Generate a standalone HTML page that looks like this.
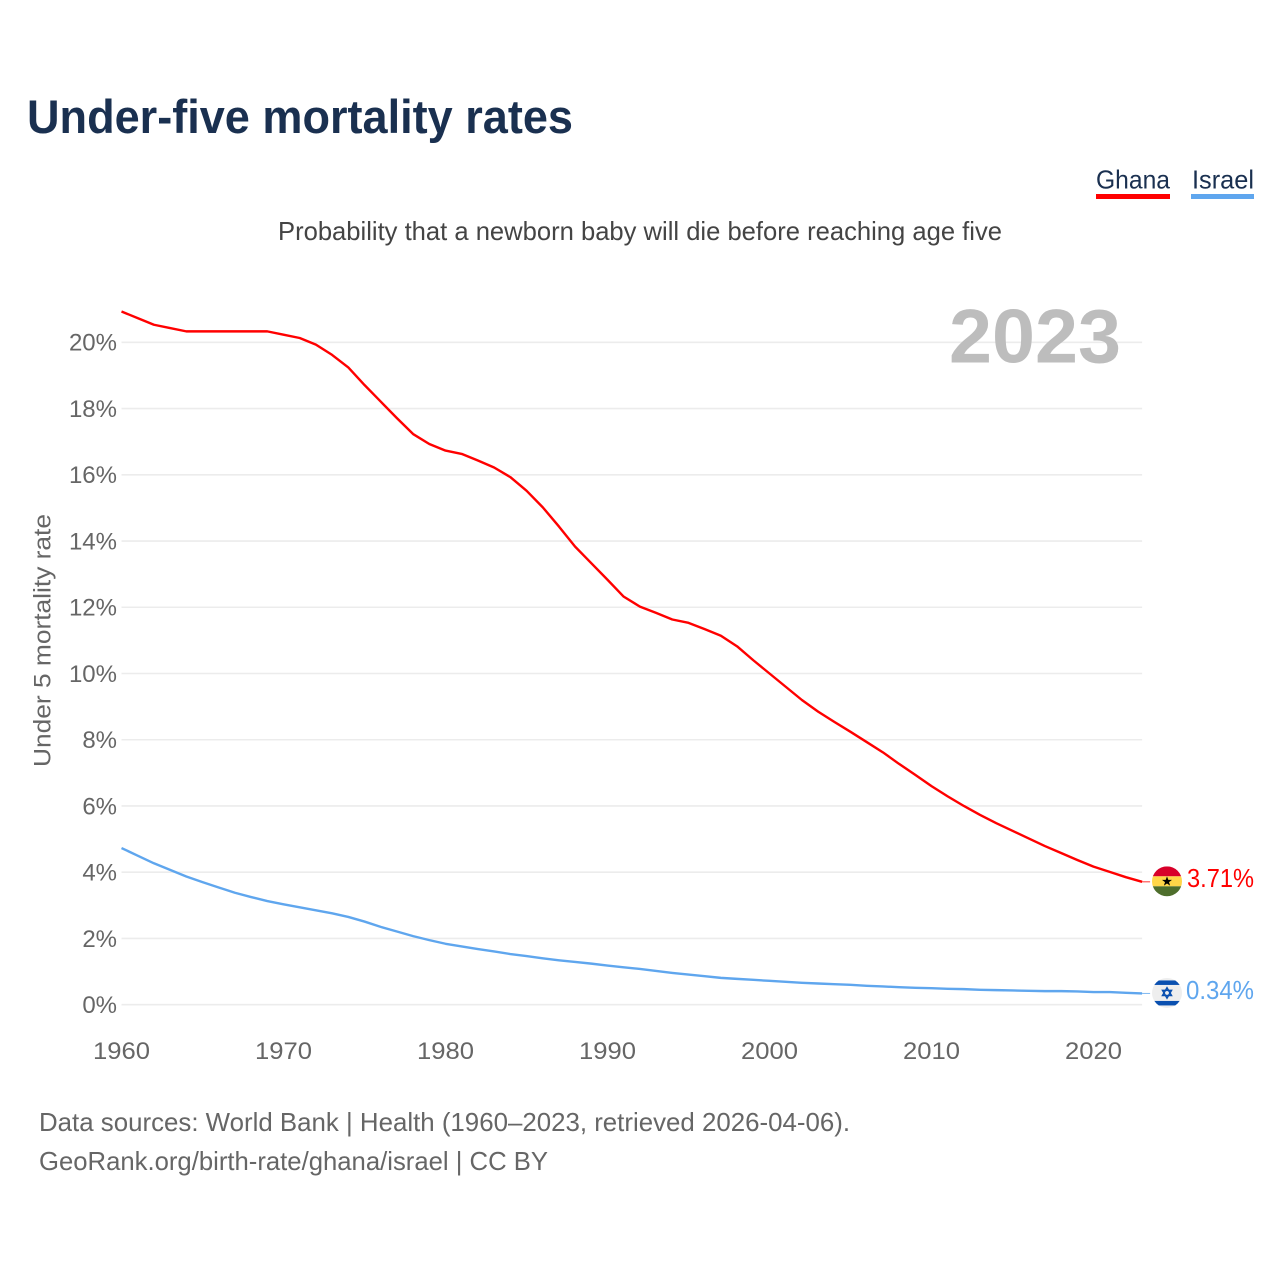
<!DOCTYPE html>
<html lang="en">
<head>
<meta charset="utf-8">
<title>Under-five mortality rates</title>
<style>
html,body{margin:0;padding:0;background:#fff;width:1280px;height:1280px;overflow:hidden}
svg{display:block}
text{font-family:"Liberation Sans",sans-serif}
</style>
</head>
<body>
<svg id="chart" xmlns="http://www.w3.org/2000/svg" width="1280" height="1280" viewBox="0 0 1280 1280">
  <rect width="1280" height="1280" fill="#fff"/>
  <text x="27" y="133" font-size="47" font-weight="700" fill="#1a3050" textLength="546" lengthAdjust="spacingAndGlyphs">Under-five mortality rates</text>
  <g>
    <text x="1096" y="188.5" font-size="26" fill="#1a3050" textLength="74" lengthAdjust="spacingAndGlyphs">Ghana</text>
    <rect x="1096" y="194" width="74" height="5" fill="#ff0000"/>
  </g>
  <g>
    <text x="1192" y="188.5" font-size="26" fill="#1a3050" textLength="62" lengthAdjust="spacingAndGlyphs">Israel</text>
    <rect x="1191" y="194" width="63" height="5" fill="#5fa6ee"/>
  </g>
  <text x="278" y="240" font-size="26" fill="#444" textLength="724" lengthAdjust="spacingAndGlyphs">Probability that a newborn baby will die before reaching age five</text>
  <g id="grid"></g>
  <text x="949" y="362.5" font-size="76" font-weight="700" fill="#bdbdbd" textLength="172" lengthAdjust="spacingAndGlyphs">2023</text>
  <text transform="translate(50.5,767) rotate(-90)" x="0" y="0" font-size="24.5" fill="#666" textLength="253" lengthAdjust="spacingAndGlyphs">Under 5 mortality rate</text>
  <g id="yticks"></g>
  <g id="xticks"></g>
  <g id="series"></g>
  <defs>
    <clipPath id="flag-clip-ghana"><circle cx="0" cy="0" r="15"/></clipPath>
    <clipPath id="flag-clip-israel"><circle cx="0" cy="0" r="15"/></clipPath>
  </defs>
  <g id="flag-ghana" clip-path="url(#flag-clip-ghana)">
    <rect x="-15" y="-15" width="30" height="10" fill="#d8002a"/>
    <rect x="-15" y="-5" width="30" height="10" fill="#ffd648"/>
    <rect x="-15" y="5" width="30" height="10" fill="#4e6e2c"/>
    <polygon points="0,-5 1.3,-1.5 5,-1.5 2,0.8 3.1,4.3 0,2.2 -3.1,4.3 -2,0.8 -5,-1.5 -1.3,-1.5" fill="#000"/>
  </g>
  <g id="flag-israel" clip-path="url(#flag-clip-israel)">
    <rect x="-15" y="-15" width="30" height="30" fill="#eeeeee"/>
    <rect x="-15" y="-12.5" width="30" height="4.5" fill="#0a50b0"/>
    <rect x="-15" y="8" width="30" height="4.5" fill="#0a50b0"/>
    <polygon points="0,-5.2 4.5,2.6 -4.5,2.6" fill="none" stroke="#0a50b0" stroke-width="1.5"/>
    <polygon points="0,5.2 4.5,-2.6 -4.5,-2.6" fill="none" stroke="#0a50b0" stroke-width="1.5"/>
  </g>
  <text id="value-ghana" x="1187" y="887" font-size="26" fill="#ff0000" textLength="67" lengthAdjust="spacingAndGlyphs"></text>
  <text id="value-israel" x="1186" y="999" font-size="26" fill="#5fa6ee" textLength="68" lengthAdjust="spacingAndGlyphs"></text>
  <text x="39" y="1131" font-size="26" fill="#666" textLength="811" lengthAdjust="spacingAndGlyphs">Data sources: World Bank | Health (1960–2023, retrieved 2026-04-06).</text>
  <text x="39" y="1170" font-size="26" fill="#666" textLength="509" lengthAdjust="spacingAndGlyphs">GeoRank.org/birth-rate/ghana/israel | CC BY</text>
</svg>
<script>
const startYear = 1960;
const xTickYears = [1960, 1970, 1980, 1990, 2000, 2010, 2020];
const yTickValues = [0, 2, 4, 6, 8, 10, 12, 14, 16, 18, 20];
const ghanaValues = [20.93,20.73,20.53,20.43,20.33,20.33,20.33,20.33,20.33,20.33,20.23,20.13,19.93,19.62,19.24,18.71,18.21,17.71,17.23,16.93,16.73,16.63,16.43,16.22,15.93,15.52,15.02,14.44,13.83,13.33,12.83,12.32,12.02,11.83,11.63,11.53,11.34,11.14,10.82,10.4,10.0,9.6,9.2,8.85,8.54,8.24,7.93,7.62,7.27,6.94,6.6,6.29,6.0,5.73,5.48,5.25,5.02,4.79,4.58,4.37,4.17,4.01,3.85,3.71];
const israelValues = [4.73,4.5,4.27,4.07,3.87,3.7,3.54,3.38,3.25,3.13,3.03,2.94,2.85,2.76,2.65,2.51,2.35,2.21,2.07,1.95,1.84,1.76,1.68,1.61,1.53,1.47,1.4,1.34,1.29,1.24,1.18,1.13,1.08,1.02,0.96,0.91,0.86,0.81,0.78,0.75,0.72,0.69,0.66,0.64,0.62,0.6,0.57,0.55,0.53,0.51,0.5,0.48,0.47,0.45,0.44,0.43,0.42,0.41,0.41,0.4,0.38,0.38,0.36,0.34];

const NS = 'http://www.w3.org/2000/svg';
const xScale = year => 121.5 + (year - 1960) * 16.2;
const yScale = value => 1004.7 - value * 33.12;
const lastYear = startYear + ghanaValues.length - 1;

function make(tag, parent, attrs, text) {
  const el = document.createElementNS(NS, tag);
  for (const k in attrs) el.setAttribute(k, attrs[k]);
  if (text !== undefined) el.textContent = text;
  parent.appendChild(el);
  return el;
}

const gridGroup = document.getElementById('grid');
const yGroup = document.getElementById('yticks');
const xGroup = document.getElementById('xticks');
const seriesGroup = document.getElementById('series');

yTickValues.forEach(v => {
  const line = make('line', gridGroup, {x1: xScale(startYear), x2: xScale(lastYear), y1: yScale(v), y2: yScale(v), stroke: '#ececec', 'stroke-width': 1.6});
  
  
  const label = make('text', yGroup, {x: 117, y: yScale(v) + 8.3, 'font-size': 24, fill: '#666', 'text-anchor': 'end'}, v + '%');
  
  
});

xTickYears.forEach(y => {
  const label = make('text', xGroup, {x: xScale(y), y: 1059, 'font-size': 24, fill: '#666', 'text-anchor': 'middle', textLength: 57, lengthAdjust: 'spacingAndGlyphs'}, String(y));
  
  
});

function drawSeries(values, color, name) {
  const pts = values.map((v, i) => xScale(startYear + i).toFixed(2) + ',' + yScale(v).toFixed(2)).join(' ');
  const line = make('polyline', seriesGroup, {points: pts, fill: 'none', stroke: color, 'stroke-width': 2.4, 'stroke-linejoin': 'round'});
  
  
  const lastY = yScale(values[values.length - 1]);
  const link = make('line', seriesGroup, {x1: xScale(lastYear), x2: xScale(lastYear) + 8, y1: lastY, y2: lastY, stroke: color, 'stroke-width': 1, opacity: 0.8});
  
  
  document.getElementById('flag-' + name).setAttribute('transform', 'translate(1167,' + (lastY - 0.5).toFixed(2) + ')');
  document.getElementById('value-' + name).textContent = values[values.length - 1].toFixed(2) + '%';
}

drawSeries(ghanaValues, '#ff0000', 'ghana');
drawSeries(israelValues, '#5fa6ee', 'israel');
</script>
</body>
</html>
